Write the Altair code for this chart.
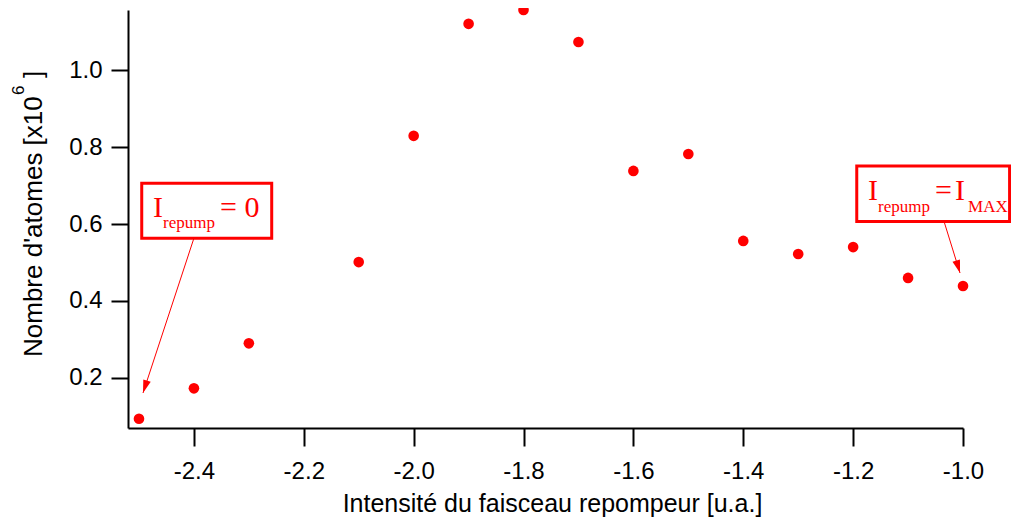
import altair as alt
import pandas as pd

# ---- data ----
intensity = [-2.5, -2.4, -2.3, -2.1, -2.0, -1.9, -1.8, -1.7, -1.6, -1.5, -1.4, -1.3, -1.2, -1.1, -1.0]
atoms = [0.094, 0.173, 0.290, 0.501, 0.829, 1.120, 1.156, 1.073, 0.738, 0.782, 0.556, 0.522, 0.540, 0.460, 0.439]

x_ticks = [-2.4, -2.2, -2.0, -1.8, -1.6, -1.4, -1.2, -1.0]
y_ticks = [0.2, 0.4, 0.6, 0.8, 1.0]
x_domain = [-2.52, -1.0]
y_domain = [0.07, 1.156]

# y-axis title pieces (main text, superscript, closing bracket)
ytitle_parts = ["Nombre d'atomes [x10", "6", "]"]
x_title = "Intensité du faisceau repompeur [u.a.]"

# annotation boxes (data units)
box_x = [-2.495, -1.1934]
box_x2 = [-2.2584, -0.9152]
box_y = [0.7057, 0.7507]
box_y2 = [0.5629, 0.6065]

# arrows (data units): from box to point
arrow_x = [-2.40, -1.0345]
arrow_y = [0.563, 0.6065]
arrow_x2 = [-2.4927, -1.0054]
arrow_y2 = [0.161, 0.4727]
arrow_angle = [18, 343]

# annotation texts
big_text = ["I", "= 0", "I", "=", "I"]
big_x = [-2.4745, -2.3525, -1.1728, -1.0508, -1.0144]
big_y = [0.6182, 0.6182, 0.6624, 0.6624, 0.6624]
sub_text = ["repump", "repump", "MAX"]
sub_x = [-2.4563, -1.1546, -0.9908]
sub_y = [0.5888, 0.632, 0.632]

RED = "#ff0000"
SANS = "Liberation Sans"

pts = pd.DataFrame({"x": intensity, "y": atoms})
boxes = pd.DataFrame({"x": box_x, "x2": box_x2, "y": box_y, "y2": box_y2})
arrows = pd.DataFrame({"x": arrow_x, "y": arrow_y, "x2": arrow_x2, "y2": arrow_y2, "a": arrow_angle})
bigs = pd.DataFrame({"x": big_x, "y": big_y, "t": big_text})
subs = pd.DataFrame({"x": sub_x, "y": sub_y, "t": sub_text})

xs = alt.Scale(domain=x_domain, nice=False, zero=False)
ys = alt.Scale(domain=y_domain, nice=False, zero=False)

minus_fix_x = "replace(format(datum.value, '.1f'), '\u2212', '-')"

x_axis = alt.Axis(
    values=x_ticks,
    labelExpr=minus_fix_x,
    tickSize=18, tickWidth=2, tickColor="black",
    domainWidth=2, domainColor="black",
    labelFont=SANS, labelFontSize=24, labelColor="black",
    labelPadding=13, labelFlush=False,
    title=x_title,
    titleFont=SANS, titleFontSize=25, titleFontWeight="normal",
    titleColor="black", titlePadding=8, titleX=424,
    grid=False,
)
y_axis = alt.Axis(
    values=y_ticks,
    format=".1f",
    tickSize=17, tickWidth=2, tickColor="black",
    domainWidth=2, domainColor="black",
    labelFont=SANS, labelFontSize=24, labelColor="black",
    labelPadding=9, labelFlush=False,
    title=None,
    grid=False,
)

X = alt.X("x:Q", scale=xs, axis=x_axis)
Y = alt.Y("y:Q", scale=ys, axis=y_axis)

points = alt.Chart(pts).mark_circle(size=113, color=RED, opacity=1).encode(x=X, y=Y)

rects = alt.Chart(boxes).mark_rect(fill="white", stroke=RED, strokeWidth=3).encode(
    x=X, x2="x2:Q", y=Y, y2="y2:Q",
)

lines = alt.Chart(arrows).mark_rule(color=RED, strokeWidth=1).encode(
    x=X, x2="x2:Q", y=Y, y2="y2:Q",
)

heads = alt.Chart(arrows).mark_point(
    shape="M0,0L-0.3,-1L0.3,-1Z", size=676, filled=True, color=RED, opacity=1, strokeWidth=0
).encode(
    x=alt.X("x2:Q", scale=xs, axis=x_axis),
    y=alt.Y("y2:Q", scale=ys, axis=y_axis),
    angle=alt.Angle("a:Q", scale=None),
)

big = alt.Chart(bigs).mark_text(
    font="Liberation Serif", fontSize=30, color=RED, align="left", baseline="alphabetic"
).encode(x=X, y=Y, text="t:N")

small = alt.Chart(subs).mark_text(
    font="Liberation Serif", fontSize=17, color=RED, align="left", baseline="alphabetic"
).encode(x=X, y=Y, text="t:N")

# rotated y-axis title with a real superscript
def ytitle_piece(text, size, xpix, ypix):
    return alt.Chart(pd.DataFrame({"t": [text]})).mark_text(
        font=SANS, fontSize=size, color="black", angle=270,
        align="left", baseline="alphabetic",
    ).encode(x=alt.value(xpix), y=alt.value(ypix), text="t:N")

yt_main = ytitle_piece(ytitle_parts[0], 26, -86, 347)
yt_sup = ytitle_piece(ytitle_parts[1], 17, -104, 85)
yt_end = ytitle_piece(ytitle_parts[2], 26, -86, 68)

chart = alt.layer(points, lines, heads, rects, big, small, yt_main, yt_sup, yt_end).properties(
    width=835,
    height=418,
    background="white",
    autosize=alt.AutoSizeParams(type="none"),
    padding={"left": 120, "top": 2, "right": 48, "bottom": 95},
).configure_view(stroke=None)

chart.save("out.html", embed_options={"renderer": "svg", "actions": False})
